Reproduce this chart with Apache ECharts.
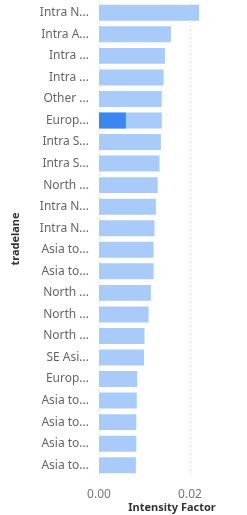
<!DOCTYPE html>
<html>
<head>
<meta charset="utf-8">
<title>Intensity Factor by tradelane</title>
<script src="https://cdn.jsdelivr.net/npm/echarts@6/dist/echarts.min.js"></script>
</head>
<body style="margin:0;background:#fff;">
<div id="main" style="width:247px;height:515px;"></div>
<script>
var tradelanes = ['Intra N...', 'Intra A...', 'Intra ...', 'Intra ...', 'Other ...', 'Europ...',
  'Intra S...', 'Intra S...', 'North ...', 'Intra N...', 'Intra N...', 'Asia to...', 'Asia to...',
  'North ...', 'North ...', 'North ...', 'SE Asi...', 'Europ...', 'Asia to...', 'Asia to...',
  'Asia to...', 'Asia to...'];
var intensity = [0.0220, 0.0158, 0.0145, 0.0142, 0.0138, 0.0138, 0.0136, 0.0133, 0.0129,
  0.0125, 0.0122, 0.0120, 0.0120, 0.0114, 0.0109, 0.0100, 0.0099, 0.0084, 0.0083,
  0.0082, 0.0082, 0.0081];
// highlighted (cross-filtered) part
var highlighted = [null, null, null, null, null, 0.0059, null, null, null, null, null,
  null, null, null, null, null, null, null, null, null, null, null];
var xTicks = ['0.00', '0.02'];

var chart = echarts.init(document.getElementById('main'));
chart.setOption({
  animation: false,
  textStyle: { fontFamily: 'Noto Sans' },
  grid: { left: 99, width: 182, top: 2, bottom: 39, outerBoundsMode: 'none' },
  xAxis: {
    type: 'value',
    min: 0,
    max: 0.04,
    interval: 0.02,
    name: 'Intensity Factor',
    nameLocation: 'middle',
    nameGap: 26,
    nameMoveOverlap: false,
    nameTextStyle: { color: '#333', fontSize: 11, fontWeight: 'bold', padding: [0, 36, 0, 0] },
    axisLine: { show: false },
    axisTick: { show: false },
    axisLabel: {
      color: '#777', fontSize: 12, margin: 13, showMaxLabel: false,
      formatter: function (v) { return xTicks[Math.round(v / 0.02)] || ''; }
    },
    splitLine: { lineStyle: { type: [1, 3], color: '#ccc' } }
  },
  yAxis: {
    type: 'category',
    inverse: true,
    data: tradelanes,
    name: 'tradelane',
    nameLocation: 'middle',
    nameGap: 78,
    nameMoveOverlap: false,
    nameTextStyle: { color: '#333', fontSize: 11, fontWeight: 'bold' },
    axisLine: { show: false },
    axisTick: { show: false },
    axisLabel: { color: '#666', fontSize: 12, margin: 10 }
  },
  series: [
    {
      type: 'bar',
      data: intensity,
      barCategoryGap: '26%',
      itemStyle: { color: '#a8cbf9' }
    },
    {
      type: 'bar',
      data: highlighted,
      barGap: '-100%',
      barCategoryGap: '26%',
      itemStyle: { color: '#3a87f2' }
    }
  ]
});
</script>
</body>
</html>
